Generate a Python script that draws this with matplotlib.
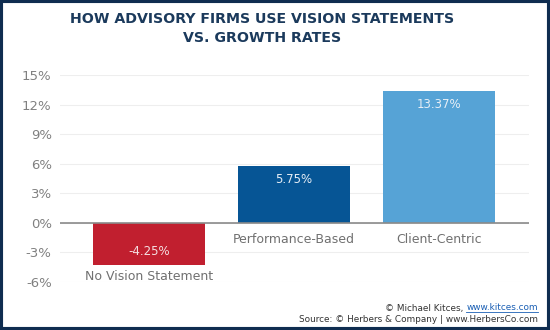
import matplotlib
matplotlib.use("Agg")
import matplotlib.pyplot as plt
from matplotlib.patches import Rectangle
from matplotlib.lines import Line2D

categories = ["No Vision Statement", "Performance-Based", "Client-Centric"]
growth_rates = [-4.25, 5.75, 13.37]
bar_colors = ["#c11f2f", "#065595", "#56a3d6"]
y_ticks = [-6, -3, 0, 3, 6, 9, 12, 15]

W, H = 550, 330
NAVY = "#0f2d50"
FONT = "DejaVu Sans"

fig = plt.figure(figsize=(W / 100, H / 100), dpi=100)
fig.patch.set_facecolor("white")

# axes placed in pixel terms
left, right, top, bottom = 60, 529, 75, 282
ax = fig.add_axes([left / W, 1 - bottom / H, (right - left) / W, (bottom - top) / H])

x = list(range(len(categories)))
ax.bar(x, growth_rates, width=0.77, color=bar_colors, zorder=3)

ax.set_xlim((left - 149) / 145, (right - 149) / 145)
ax.set_ylim(-6, 15)
ax.set_yticks(y_ticks)
ax.set_yticklabels([f"{t}%" for t in y_ticks], fontsize=9.5, color="#808080", family=FONT)
ax.tick_params(axis="y", length=0, pad=6)
ax.set_xticks([])
for s in ax.spines.values():
    s.set_visible(False)
ax.grid(axis="y", color="#eeeeee", linewidth=0.8, zorder=0)
ax.axhline(0, color="#8a8a8a", linewidth=1.2, zorder=4)

for xi, val, cat in zip(x, growth_rates, categories):
    if val >= 0:
        ax.annotate(f"{val:.2f}%", (xi, val), xytext=(0, -9.5), textcoords="offset points",
                    ha="center", va="center", fontsize=8.5, color="#e6eef6", family=FONT, zorder=5)
        ax.annotate(cat, (xi, 0), xytext=(0, -12), textcoords="offset points",
                    ha="center", va="center", fontsize=9, color="#707070", family=FONT)
    else:
        ax.annotate(f"{val:.2f}%", (xi, val), xytext=(0, 9.5), textcoords="offset points",
                    ha="center", va="center", fontsize=8.5, color="#f4dfe1", family=FONT, zorder=5)
        ax.annotate(cat, (xi, val), xytext=(0, -8.5), textcoords="offset points",
                    ha="center", va="center", fontsize=9, color="#707070", family=FONT)

fig.text(262 / W, 1 - 19 / H, "HOW ADVISORY FIRMS USE VISION STATEMENTS",
         ha="center", va="center", fontsize=10.2, fontweight="bold", color="#1b3a5c", family=FONT)
fig.text(262 / W, 1 - 38 / H, "VS. GROWTH RATES",
         ha="center", va="center", fontsize=10.2, fontweight="bold", color="#1b3a5c", family=FONT)

# footer credits
link = fig.text(538 / W, 1 - 308 / H, "www.kitces.com", ha="right", va="center",
                fontsize=6.4, color="#1a5fb4", family=FONT)
fig.canvas.draw()
bb = link.get_window_extent()
fig.text((bb.x0 - 3) / W, 1 - 308 / H, "\u00a9 Michael Kitces,", ha="right", va="center",
         fontsize=6.4, color="#333333", family=FONT)
fig.add_artist(Line2D([bb.x0 / W, bb.x1 / W], [(bb.y0 + 0.5) / H] * 2,
                      transform=fig.transFigure, color="#1a5fb4", linewidth=0.6))
fig.text(538 / W, 1 - 319 / H, "Source: \u00a9 Herbers & Company | www.HerbersCo.com",
         ha="right", va="center", fontsize=6.4, color="#333333", family=FONT)

fig.add_artist(Rectangle((0, 0), 1, 1, transform=fig.transFigure, fill=False,
                         edgecolor=NAVY, linewidth=4.4, clip_on=False))

fig.savefig("out.png", dpi=100)
